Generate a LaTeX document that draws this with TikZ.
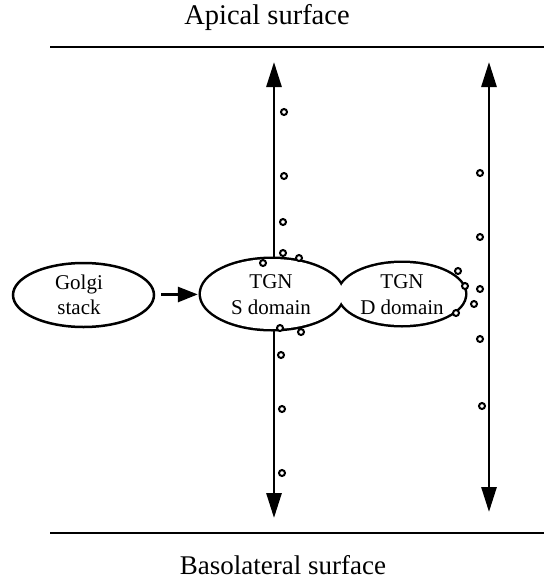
\documentclass[tikz,border=0pt]{standalone}
\usepackage{fontspec}
\setmainfont{Liberation Serif}
\usetikzlibrary{arrows.meta,shapes.geometric}
\begin{document}
\begin{tikzpicture}[x=1pt,y=-1pt,
  surface/.style={line width=2.8pt},
  route/.style={line width=2.8pt,
    {Triangle[length=25pt,width=15pt]}-{Triangle[length=25pt,width=15pt]}},
  feed/.style={line width=2.8pt, -{Triangle[length=20pt,width=15pt]},
    shorten <=6pt, shorten >=3pt},
  compartment/.style={ellipse, draw, line width=2.5pt, inner sep=0pt},
  domainline/.style={ellipse, draw, line width=5pt, inner sep=0pt},
  domainfill/.style={ellipse, fill=white, inner sep=0pt},
  label/.style={font=\fontsize{21}{25.5}\selectfont, align=center, inner sep=0pt},
  title/.style={inner sep=0pt},
  vesicle/.style={draw, fill=white, line width=2pt},
]
\useasboundingbox (0,0) rectangle (546,582);

% plasma membrane surfaces
\node[title, font=\fontsize{28.5}{34}\selectfont] (apical) at (267,17) {Apical surface};
\node[title, font=\fontsize{27}{33}\selectfont] (baso) at (283,565) {Basolateral surface};
\draw[surface] (50,47) -- (544,47);
\draw[surface] (50,533) -- (544,533);

% transport routes between the two surfaces
\coordinate (sTop) at (274,62);
\coordinate (sBot) at (274,518);
\coordinate (dTop) at (489,62);
\coordinate (dBot) at (489,512);
\draw[route] (sTop) -- (sBot);
\draw[route] (dTop) -- (dBot);

% Golgi stack
\node[compartment, minimum width=141pt, minimum height=64pt] (golgi) at (83.5,295) {};
\node[label] (gtext) at (79,295) {Golgi\\stack};

% TGN domains: thick outlines, then white interiors leave the joint outline
\node[domainline, minimum width=142pt, minimum height=70pt] (sline) at (272,294) {};
\node[domainline, minimum width=126pt, minimum height=62pt] (dline) at (402,294) {};
\node[domainfill, minimum width=142pt, minimum height=70pt] (sdom) at (272,294) {};
\node[domainfill, minimum width=126pt, minimum height=62pt] (ddom) at (402,294) {};
\node[label] (stext) at (271,294.5) {TGN\\S domain};
\node[label] (dtext) at (402,294.5) {TGN\\D domain};

\draw[feed] (golgi) -- (sdom);

% vesicles along the S-domain route
\foreach \p in {(284,112),(284,176),(283,222),(283,253),(263,263),(299,258),
                (280,328),(301,332),(281,355),(282,409),(282,473)}
  \draw[vesicle] \p circle (3);
% vesicles along the D-domain route
\foreach \p in {(480,173),(480,237),(458,271),(465,286),(480,289),(474,304),
                (456,313),(480,339),(482,406)}
  \draw[vesicle] \p circle (3);
\end{tikzpicture}
\end{document}
